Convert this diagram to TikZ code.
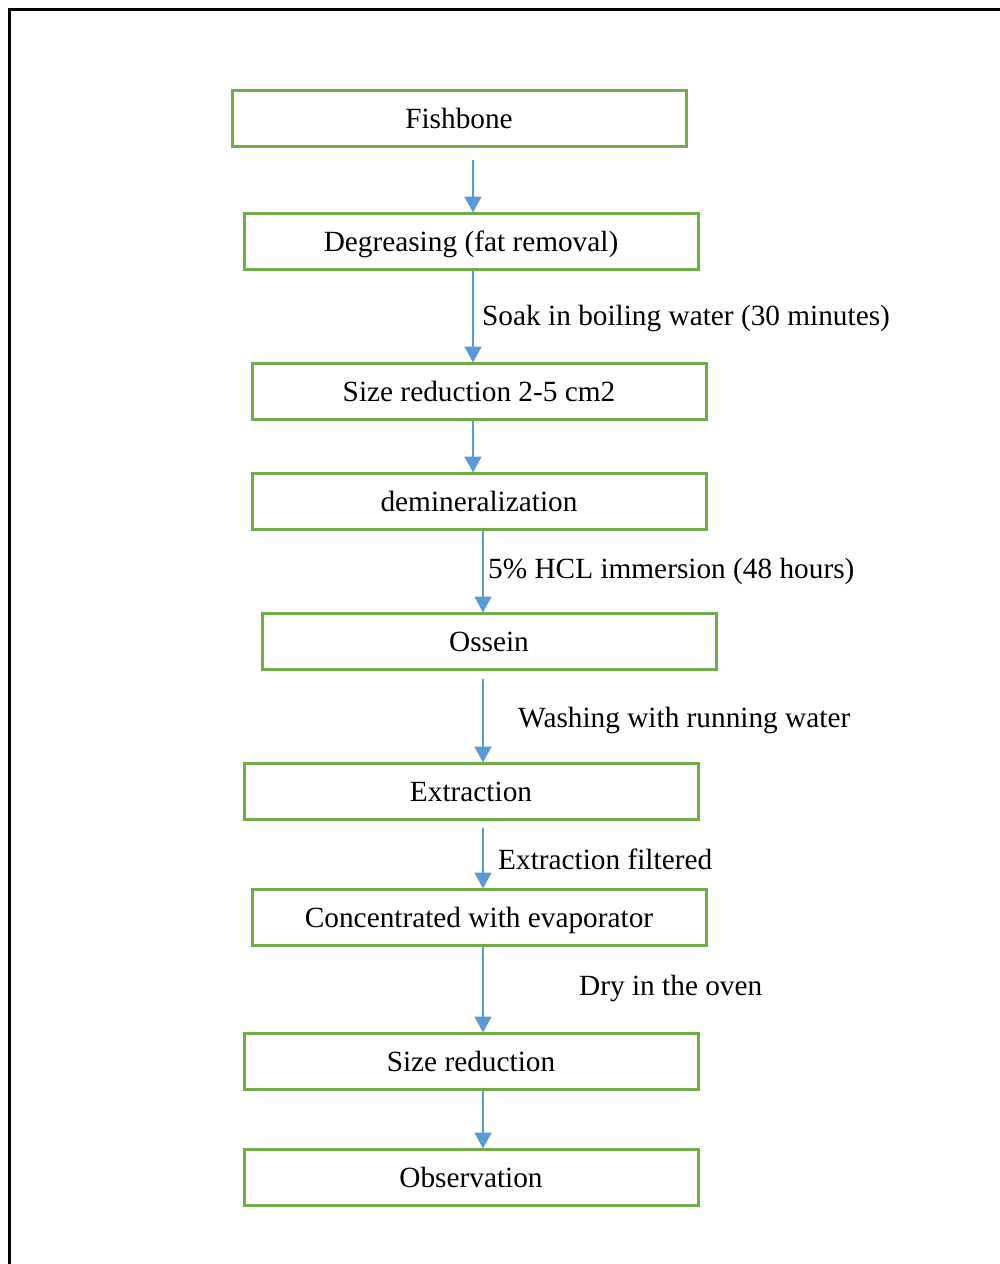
\documentclass[tikz,border=0pt]{standalone}
\usepackage{fontspec}
\setmainfont{Liberation Serif}
\usetikzlibrary{arrows.meta,calc}
\definecolor{boxgreen}{HTML}{70AD47}
\definecolor{arrblue}{HTML}{5B9BD5}
\begin{document}
\begin{tikzpicture}[x=1pt,y=-1pt,
  stepbox/.style={draw=boxgreen,line width=3pt,fill=white,minimum width=454pt,minimum height=56pt,inner sep=0pt,
    font=\fontsize{29.3pt}{34pt}\selectfont,text height=22pt,text depth=2pt},
  lbl/.style={anchor=base west,inner sep=0pt,font=\fontsize{29.3pt}{34pt}\selectfont},
  arr/.style={draw=arrblue,line width=2pt,-{Triangle[length=16pt,width=17pt]},shorten >=-1pt}]
\useasboundingbox (0,0) rectangle (999,1264);
\draw[line width=3pt,black] (9,1300) -- (9,9) -- (1100,9);
\node[stepbox] (n1) at (459,118) {Fishbone};
\node[stepbox] (n2) at (471,241) {Degreasing (fat removal)};
\node[stepbox] (n3) at (479,391) {Size reduction 2-5 cm2};
\node[stepbox] (n4) at (479,501) {demineralization};
\node[stepbox] (n5) at (489,641) {Ossein};
\node[stepbox] (n6) at (471,791) {Extraction};
\node[stepbox] (n7) at (479,917) {Concentrated with evaporator};
\node[stepbox] (n8) at (471,1061) {Size reduction};
\node[stepbox] (n9) at (471,1177) {Observation};
\coordinate (ax1) at (473,0);
\coordinate (ax2) at (483,0);
\draw[arr] ($(n1.south -| ax1)+(0,12)$) -- (n2.north -| ax1);
\draw[arr] (n2.south -| ax1) -- (n3.north -| ax1);
\draw[arr] (n3.south -| ax1) -- (n4.north -| ax1);
\draw[arr] (n4.south -| ax2) -- (n5.north -| ax2);
\draw[arr] ($(n5.south -| ax2)+(0,8)$) -- (n6.north -| ax2);
\draw[arr] ($(n6.south -| ax2)+(0,7)$) -- (n7.north -| ax2);
\draw[arr] (n7.south -| ax2) -- (n8.north -| ax2);
\draw[arr] (n8.south -| ax2) -- (n9.north -| ax2);
\node[lbl] (l1) at (482,325) {Soak in boiling water (30 minutes)};
\node[lbl] (l2) at (488,578) {5\% HCL immersion (48 hours)};
\node[lbl] (l3) at (518,727) {Washing with running water};
\node[lbl] (l4) at (498,869) {Extraction filtered};
\node[lbl] (l5) at (579,995) {Dry in the oven};
\end{tikzpicture}
\end{document}
